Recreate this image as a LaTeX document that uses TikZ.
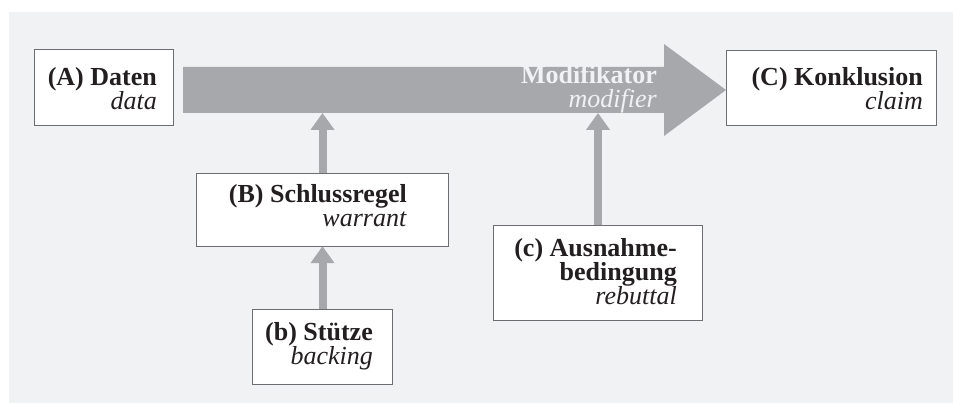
\documentclass[tikz,border=0pt]{standalone}
\usepackage{fontspec}
\setmainfont{Liberation Serif}
\usetikzlibrary{arrows.meta,calc}
\definecolor{bg}{HTML}{F1F2F4}
\definecolor{arrowgray}{HTML}{A7A8AB}
\definecolor{frame}{HTML}{6D6E71}
\definecolor{ink}{HTML}{231F20}
\begin{document}
\begin{tikzpicture}[x=1pt,y=-1pt,
  box/.style={draw=frame, line width=0.9pt, fill=white, inner sep=0pt},
  lbl/.style={text=ink, inner sep=0pt, align=right, anchor=base east,
    font=\fontsize{26}{24}\selectfont},
  modlbl/.style={lbl, text=bg},
  uparrow/.style={draw=arrowgray, line width=8pt, -{Triangle[length=17pt,width=23pt]}}
]
\useasboundingbox (0,0) rectangle (953,403);
\fill[bg] (9,12) rectangle (953,403);

% big arrow
\coordinate (S) at (183,90);
\coordinate (T) at (726,90);
\fill[arrowgray] ($(S)+(0,-23)$) -- ($(T)+(-62,-23)$) -- ($(T)+(-62,-46)$) -- (T)
  -- ($(T)+(-62,46)$) -- ($(T)+(-62,23)$) -- ($(S)+(0,23)$) -- cycle;

% boxes (positions only; drawn after arrows)
\path
  (104,87.5) node[minimum width=138pt, minimum height=75pt, inner sep=0pt] (A) {}
  (831.5,88) node[minimum width=209pt, minimum height=74pt, inner sep=0pt] (C) {}
  (322.5,210) node[minimum width=251pt, minimum height=72pt, inner sep=0pt] (B) {}
  (322.5,347) node[minimum width=139pt, minimum height=74pt, inner sep=0pt] (b) {}
  (598,273) node[minimum width=208pt, minimum height=94pt, inner sep=0pt] (c) {};

% small arrows
\coordinate (mB) at (B.north |- 0,113);
\coordinate (mc) at (c.north |- 0,113);
\draw[uparrow] (B.north) -- (mB);
\draw[uparrow] (b.north) -- (B.south);
\draw[uparrow] (c.north) -- (mc);

% box frames
\foreach \n in {A,C,B,b,c}
  \draw[box] (\n.north west) rectangle (\n.south east);

% texts (anchored at baseline of last line)
\node[modlbl] (mod) at (657,108) {\textbf{Modifikator}\\\textit{modifier}};
\node[lbl] (At) at (157,110) {\textbf{(A) Daten}\\\textit{data}};
\node[lbl] (Ct) at (923,110) {\textbf{(C) Konklusion}\\\textit{claim}};
\node[lbl] (Bt) at (407,227) {\textbf{(B) Schlussregel}\\\textit{warrant}};
\node[lbl] (bt) at (373,364) {\textbf{(b) Stütze}\\\textit{backing}};
\node[lbl] (ct) at (677,305) {\textbf{(c) Ausnahme-}\\\textbf{bedingung}\\\textit{rebuttal}};
\end{tikzpicture}
\end{document}
